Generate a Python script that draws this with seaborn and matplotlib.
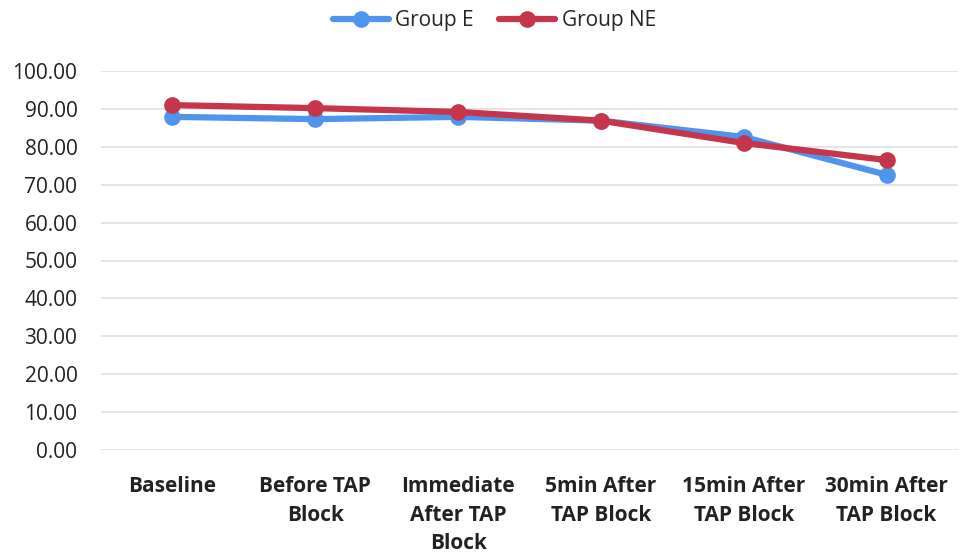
import pandas as pd
import matplotlib.pyplot as plt
import seaborn as sns

# Timepoints and mean values per group
timepoints = ["Baseline", "Before TAP\nBlock", "Immediate\nAfter TAP\nBlock",
              "5min After\nTAP Block", "15min After\nTAP Block", "30min After\nTAP Block"]
group_e = [87.9, 87.3, 87.9, 86.9, 82.6, 72.6]
group_ne = [91.0, 90.2, 89.2, 86.9, 81.0, 76.5]

df = pd.DataFrame({
    "time": timepoints * 2,
    "value": group_e + group_ne,
    "group": ["Group E"] * len(group_e) + ["Group NE"] * len(group_ne),
})

sns.set_style("white")
plt.rcParams['font.family'] = ['Open Sans', 'DejaVu Sans']

fig = plt.figure(figsize=(9.68, 5.58), dpi=100)
ax = fig.add_axes([101 / 968, 1 - 450 / 558, 857 / 968, 379 / 558])

palette = {"Group E": "#4F95EE", "Group NE": "#C5354B"}
sns.lineplot(data=df, x="time", y="value", hue="group", palette=palette,
             marker="o", markersize=12, markeredgewidth=0, linewidth=4.5,
             sort=False, ax=ax)

ax.set_ylim(0, 100)
ax.set_xlim(-0.5, len(timepoints) - 0.5)
ax.set_yticks(range(0, 101, 10))
ax.set_yticklabels([f"{v:.2f}" for v in range(0, 101, 10)], fontsize=15, color="#222222")
ax.set_xticks(range(len(timepoints)))
ax.set_xticklabels(timepoints, fontsize=15, fontweight="bold", color="#222222",
                   linespacing=1.45)
ax.tick_params(axis="y", length=0, pad=17)
ax.tick_params(axis="x", length=0, pad=19)
ax.yaxis.grid(True, color="#DDE2E2", linewidth=1.2)
ax.set_axisbelow(True)
for s in ax.spines.values():
    s.set_visible(False)
ax.set_xlabel("")
ax.set_ylabel("")

ax.legend(loc="upper center", bbox_to_anchor=(0.459, 1.21), ncol=2, frameon=False,
          fontsize=15, handlelength=2.7, columnspacing=1.2, handletextpad=0.3)

fig.savefig("out.png", dpi=100)
